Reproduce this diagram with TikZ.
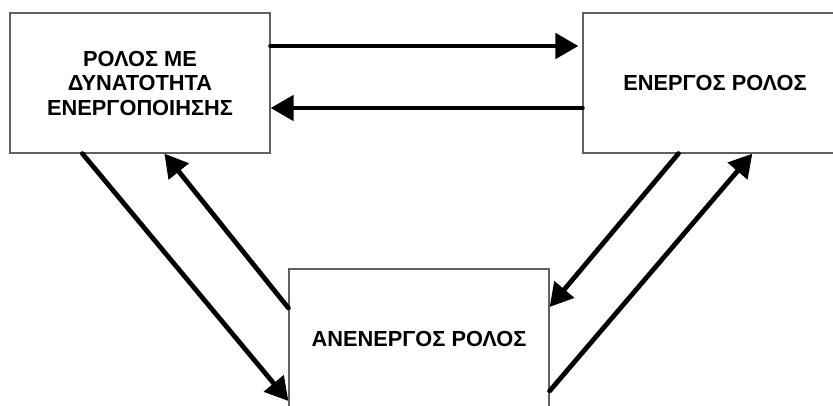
\documentclass[tikz,border=0pt]{standalone}
\usepackage{fontspec}
\setmainfont{Liberation Sans}
\usetikzlibrary{arrows.meta}
\begin{document}
\begin{tikzpicture}[x=1pt,y=-1pt,
  rolebox/.style={draw=black!62, line width=1.2pt, fill=white, inner sep=0pt,
    minimum height=140pt, align=center,
    font=\fontsize{21.8}{24.5}\selectfont\bfseries},
  link/.style={line width=4.8pt, line cap=round,
    -{Triangle[length=23pt,width=25pt]}}]
  \useasboundingbox (0,0) rectangle (833,405);
  \clip (0,0) rectangle (833,405);
  \fill[white] (0,0) rectangle (833,405);
  % the three role states
  \node[rolebox, minimum width=260pt] (L) at (140,83)
    {ΡΟΛΟΣ ΜΕ\\ΔΥΝΑΤΟΤΗΤΑ\\ΕΝΕΡΓΟΠΟΙΗΣΗΣ};
  \node[rolebox, minimum width=264pt] (R) at (715,83) {ΕΝΕΡΓΟΣ ΡΟΛΟΣ};
  \node[rolebox, minimum width=260pt] (B) at (419,339) {ΑΝΕΝΕΡΓΟΣ ΡΟΛΟΣ};
  % transitions between the states
  \draw[link, shorten >=4pt] ([yshift=37pt]L.east) -- ([yshift=37pt]R.west);
  \draw[link] ([yshift=-25pt]R.west) -- ([yshift=-25pt]L.east);
  \draw[link] ([xshift=73pt]L.south west) -- ([yshift=-62pt]B.west);
  \draw[link] ([yshift=31pt]B.west) -- ([xshift=155pt]L.south west);
  \draw[link] ([xshift=96pt]R.south west) -- ([yshift=32pt]B.east);
  \draw[link] ([yshift=-52pt]B.east) -- ([xshift=170pt]R.south west);
\end{tikzpicture}
\end{document}
